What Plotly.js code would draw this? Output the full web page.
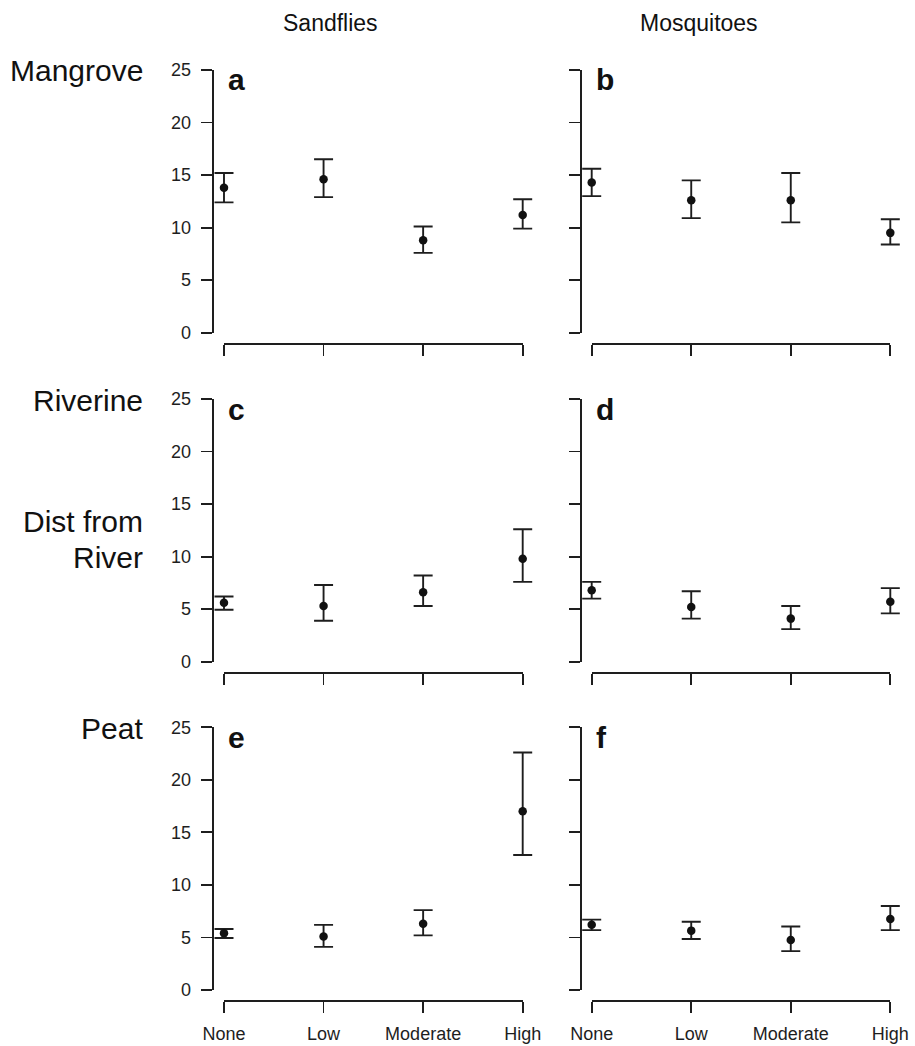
<!DOCTYPE html>
<html>
<head>
<meta charset="utf-8">
<script src="https://cdn.plot.ly/plotly-3.0.1.min.js"></script>
<style>html,body{margin:0;padding:0;background:#fff;}#chart{width:915px;height:1046px;}</style>
</head>
<body>
<div id="chart"></div>
<script>
// ---- Data ----
const categories = ['None', 'Low', 'Moderate', 'High'];
const yTickVals = [0, 5, 10, 15, 20, 25];
const columnTitles = ['Sandflies', 'Mosquitoes'];
const rowTitles = ['Mangrove', 'Riverine', 'Dist from', 'River', 'Peat'];
const panelLetters = ['a', 'b', 'c', 'd', 'e', 'f'];

// Sandflies, Mangrove (a)
const aMean  = [13.8, 14.6, 8.8, 11.2];
const aUpper = [15.2, 16.5, 10.1, 12.7];
const aLower = [12.4, 12.9, 7.6, 9.9];
// Mosquitoes, Mangrove (b)
const bMean  = [14.3, 12.6, 12.6, 9.5];
const bUpper = [15.6, 14.5, 15.2, 10.8];
const bLower = [13.0, 10.9, 10.5, 8.4];
// Sandflies, Riverine (c)
const cMean  = [5.6, 5.3, 6.6, 9.8];
const cUpper = [6.2, 7.3, 8.2, 12.6];
const cLower = [4.95, 3.9, 5.3, 7.6];
// Mosquitoes, Riverine (d)
const dMean  = [6.8, 5.2, 4.1, 5.7];
const dUpper = [7.6, 6.7, 5.3, 7.0];
const dLower = [6.0, 4.1, 3.1, 4.6];
// Sandflies, Peat (e)
const eMean  = [5.4, 5.1, 6.3, 17.0];
const eUpper = [5.8, 6.2, 7.6, 22.6];
const eLower = [4.95, 4.1, 5.2, 12.85];
// Mosquitoes, Peat (f)
const fMean  = [6.2, 5.65, 4.75, 6.75];
const fUpper = [6.7, 6.5, 6.05, 8.0];
const fLower = [5.7, 4.85, 3.7, 5.7];

const panels = [
  {mean: aMean, upper: aUpper, lower: aLower},
  {mean: bMean, upper: bUpper, lower: bLower},
  {mean: cMean, upper: cUpper, lower: cLower},
  {mean: dMean, upper: dUpper, lower: dLower},
  {mean: eMean, upper: eUpper, lower: eLower},
  {mean: fMean, upper: fUpper, lower: fLower}
];

// ---- Layout geometry (pixels) ----
const W = 915, H = 1046;
const px = x => x / W;
const py = y => 1 - y / H;
const rowTop = [70, 399, 727.3];      // pixel y of value 25
const rowBottom = [332.7, 661.7, 990]; // pixel y of value 0
const rowXLine = [343.3, 672, 1000];   // pixel y of x axis line
const colYLine = [211.7, 580];         // pixel x of y axis line
const colXStart = [224, 591.7];
const colXEnd = [522.7, 890.3];
const PAD = 0.2; // extra category units around the data area (avoids clipping caps)

const FONT = 'Liberation Sans, Arial, Helvetica, sans-serif';
const INK = '#1e1e1e';
const LW = 1.8;

const data = [];
const layout = {
  width: W, height: H,
  margin: {l: 0, r: 0, t: 0, b: 0, autoexpand: false},
  paper_bgcolor: '#fff', plot_bgcolor: 'rgba(0,0,0,0)',
  showlegend: false,
  font: {family: FONT, color: INK, size: 18},
  annotations: []
};

panels.forEach((p, i) => {
  const r = Math.floor(i / 2), c = i % 2;
  const n = i + 1;          // hidden data subplot
  const v = i + 7;          // visible axes subplot
  const sp = (colXEnd[c] - colXStart[c]) / 3;

  // data trace on hidden, slightly wider subplot
  data.push({
    type: 'scatter', mode: 'markers',
    x: categories, y: p.mean,
    xaxis: 'x' + (n === 1 ? '' : n), yaxis: 'y' + (n === 1 ? '' : n),
    cliponaxis: false,
    marker: {size: 8.5, color: '#111'},
    error_y: {
      type: 'data', symmetric: false,
      array: p.upper.map((u, k) => u - p.mean[k]),
      arrayminus: p.lower.map((l, k) => p.mean[k] - l),
      width: 9.5, thickness: 1.9, color: INK
    },
    hoverinfo: 'skip'
  });
  // empty trace so the visible axes subplot exists
  data.push({
    type: 'scatter', mode: 'markers', x: [], y: [],
    xaxis: 'x' + v, yaxis: 'y' + v, hoverinfo: 'skip'
  });

  const yDomain = [py(rowBottom[r]), py(rowTop[r])];

  layout['xaxis' + (n === 1 ? '' : n)] = {
    type: 'category', categoryorder: 'array', categoryarray: categories,
    domain: [px(colXStart[c] - PAD * sp), px(colXEnd[c] + PAD * sp)],
    range: [-PAD, 3 + PAD],
    anchor: 'y' + (n === 1 ? '' : n),
    visible: false, fixedrange: true
  };
  layout['yaxis' + (n === 1 ? '' : n)] = {
    domain: yDomain, range: [0, 25],
    anchor: 'x' + (n === 1 ? '' : n),
    visible: false, fixedrange: true
  };

  layout['xaxis' + v] = {
    domain: [px(colXStart[c]), px(colXEnd[c])],
    range: [0, 3],
    anchor: 'free', position: py(rowXLine[r]),
    tickvals: [0, 1, 2, 3], ticktext: categories,
    showline: true, linecolor: INK, linewidth: LW,
    ticks: 'outside', ticklen: 11, tickwidth: LW, tickcolor: INK,
    showticklabels: r === 2,
    ticklabelstandoff: 6,
    tickfont: {family: FONT, size: 18, color: INK},
    showgrid: false, zeroline: false, fixedrange: true
  };
  layout['yaxis' + v] = {
    domain: yDomain, range: [0, 25],
    anchor: 'free', position: px(colYLine[c]),
    tickvals: yTickVals, ticktext: yTickVals.map(String),
    showline: true, linecolor: INK, linewidth: LW,
    ticks: 'outside', ticklen: 11, tickwidth: LW, tickcolor: INK,
    showticklabels: c === 0,
    ticklabelstandoff: 6,
    tickfont: {family: FONT, size: 18, color: INK},
    showgrid: false, zeroline: false, fixedrange: true
  };

  // Panel letter
  layout.annotations.push({
    xref: 'paper', yref: 'paper',
    x: px(colXStart[c] + 2), y: py(rowTop[r] + 10),
    xanchor: 'left', yanchor: 'middle',
    text: '<b>' + panelLetters[i] + '</b>', showarrow: false,
    font: {family: FONT, size: 30, color: '#111'}
  });
});

// Column titles
[330, 699].forEach((cx, k) => {
  layout.annotations.push({
    xref: 'paper', yref: 'paper', x: px(cx), y: py(23),
    xanchor: 'center', yanchor: 'middle', showarrow: false,
    text: columnTitles[k],
    font: {family: FONT, size: 23, color: '#111'}
  });
});

// Row titles
const rowTitleY = [71, 401, 521, 557, 728];
rowTitles.forEach((t, k) => {
  layout.annotations.push({
    xref: 'paper', yref: 'paper', x: px(145), y: py(rowTitleY[k]),
    xanchor: 'right', yanchor: 'middle', showarrow: false,
    text: t,
    font: {family: FONT, size: 30, color: '#111'}
  });
});

Plotly.newPlot('chart', data, layout, {staticPlot: true, displayModeBar: false});
</script>
</body>
</html>
